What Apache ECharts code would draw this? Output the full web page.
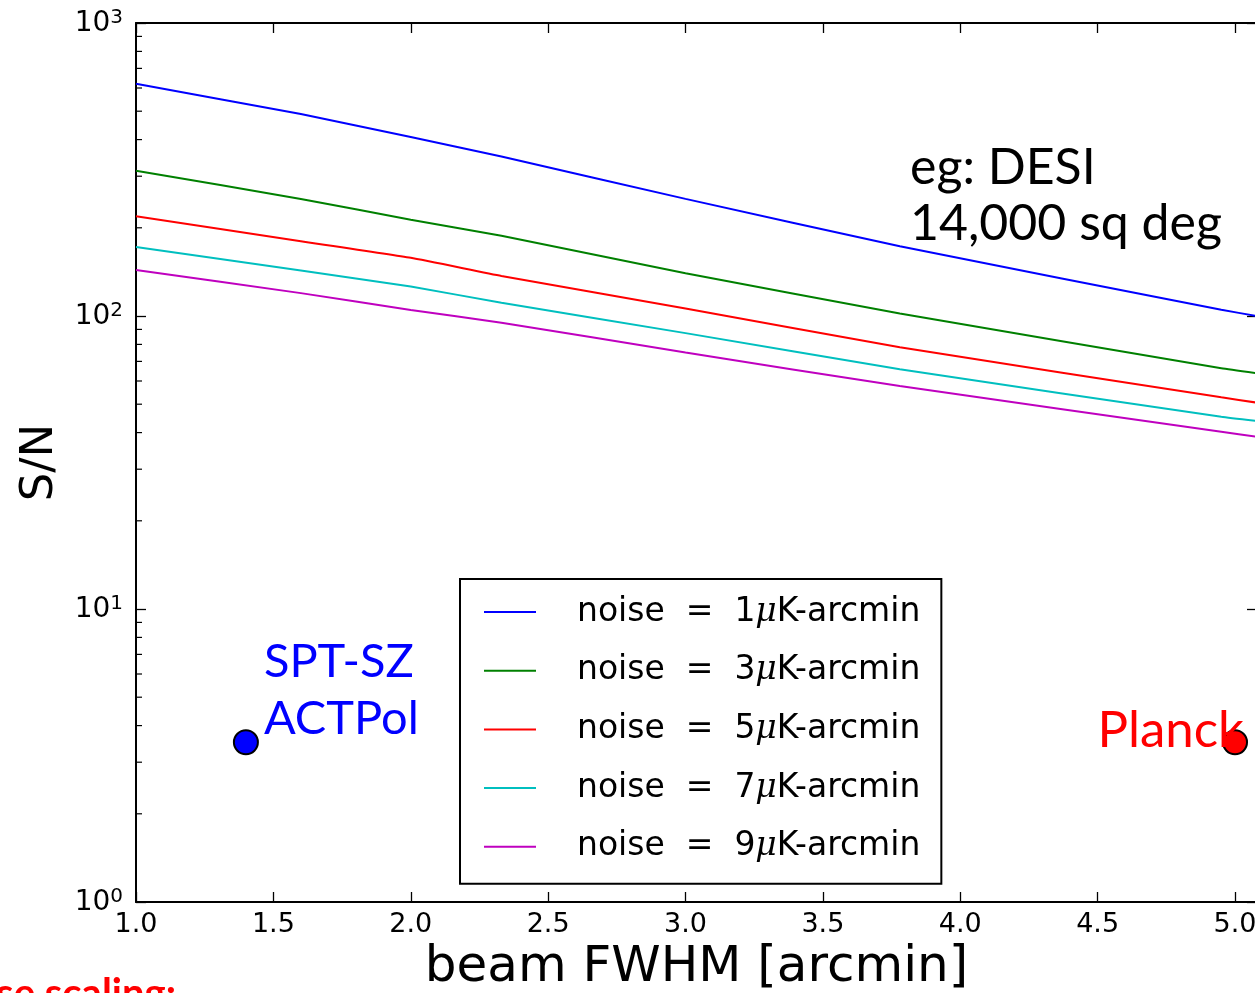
<!DOCTYPE html>
<html><head><meta charset="utf-8">
<script src="https://cdn.jsdelivr.net/npm/echarts@6/dist/echarts.min.js"></script>
<style>html,body{margin:0;padding:0;background:#fff}#c{width:1255px;height:993px}</style>
</head><body><div id="c"></div>
<script>
// ---- data ----
const beamFWHM = [1.0, 1.6, 2.0, 2.33, 3.0, 3.78, 4.95, 5.08];
const noise1 = [620, 489, 408, 350, 251, 173, 105, 100];
const noise3 = [313, 251, 213, 188, 140, 102, 66.3, 63.8];
const noise5 = [219, 180, 158, 137, 106, 78.2, 52.8, 50.6];
const noise7 = [172, 143, 126, 111, 87.4, 65.8, 45.3, 43.8];
const noise9 = [143.5, 119.7, 104.9, 94.9, 75.0, 57.7, 40.3, 38.7];
const noiseLevels = [1, 3, 5, 7, 9];
const seriesColors = ['#0000ff', '#008000', '#ff0000', '#00bfbf', '#bf00bf'];
const experiments = [
  {name: 'SPT-SZ\nACTPol', beam: 1.4, sn: 3.51, color: '#0000ff'},
  {name: 'Planck', beam: 5.0, sn: 3.51, color: '#ff0000'}
];
const yDecades = [1, 10, 100, 1000];

const allNoise = [noise1, noise3, noise5, noise7, noise9];
const names = noiseLevels.map(n => 'noise = ' + n + 'μK-arcmin');

const chart = echarts.init(document.getElementById('c'), null, {renderer: 'canvas'});

const tickFont = 'DejaVu Sans';
const annFont = 'Lato';

const lineSeries = allNoise.map((arr, i) => ({
  name: names[i], type: 'line', xAxisIndex: 0, yAxisIndex: 0,
  data: beamFWHM.map((x, j) => [x, arr[j]]),
  showSymbol: false, symbol: 'none', smooth: 0.15,
  color: seriesColors[i],
  lineStyle: {width: 2, color: seriesColors[i]},
  itemStyle: {color: seriesColors[i]},
  silent: true, z: 3
}));

const pointSeries = experiments.map((e, i) => ({
  name: 'exp' + i, type: 'scatter', xAxisIndex: 0, yAxisIndex: 0,
  data: [[e.beam, e.sn]], symbolSize: 24,
  itemStyle: {color: e.color, borderColor: '#000', borderWidth: 2, opacity: 1},
  label: {
    show: true, formatter: e.name, color: e.color, fontFamily: annFont,
    fontSize: i === 0 ? 47 : 51,
    lineHeight: 57,
    position: i === 0 ? 'right' : 'left',
    distance: 5,
    offset: i === 0 ? [0, -52] : [27, -12]
  },
  silent: true, z: 5
}));

const axisCommonX = {
  type: 'value', min: 1, max: 5.08, interval: 0.5,
  axisLine: {onZero: false, lineStyle: {color: '#000', width: 2}},
  axisTick: {inside: true, length: 10, lineStyle: {color: '#000', width: 1.3}},
  splitLine: {show: false}
};
const axisCommonY = {
  type: 'log', logBase: 10, min: 1, max: 1000,
  axisLine: {onZero: false, lineStyle: {color: '#000', width: 2}},
  axisTick: {inside: true, length: 10, lineStyle: {color: '#000', width: 1.3}},
  splitLine: {show: false}
};

chart.setOption({
  animation: false,
  backgroundColor: '#fff',
  grid: {left: 136, top: 23, width: 1121, height: 879, containLabel: false, outerBoundsMode: 'none'},
  xAxis: [
    Object.assign({}, axisCommonX, {
      position: 'bottom',
      axisLabel: {formatter: v => v.toFixed(1), showMaxLabel: false, color: '#000',
                  fontFamily: tickFont, fontSize: 27, margin: 9},
      name: 'beam FWHM [arcmin]', nameLocation: 'middle', nameGap: 40,
      nameTextStyle: {fontFamily: tickFont, fontSize: 50, color: '#000'}
    }),
    Object.assign({}, axisCommonX, {position: 'top', axisLabel: {show: false}})
  ],
  yAxis: [
    Object.assign({}, axisCommonY, {
      position: 'left',
      axisLabel: {
        formatter: v => '{b|10}{s|' + Math.round(Math.log10(v)) + '}',
        margin: 13,
        rich: {
          b: {fontFamily: tickFont, fontSize: 28, color: '#000', lineHeight: 30, verticalAlign: 'bottom'},
          s: {fontFamily: tickFont, fontSize: 20, color: '#000', lineHeight: 30, verticalAlign: 'top', padding: [0, 0, 12, 0]}
        }
      },
      name: 'S/N', nameLocation: 'middle', nameGap: 73, nameRotate: 90,
      nameTextStyle: {fontFamily: tickFont, fontSize: 45, color: '#000'}
    }),
    Object.assign({}, axisCommonY, {position: 'right', axisLabel: {show: false}})
  ],
  legend: {
    data: names, orient: 'vertical', left: 460, top: 579,
    backgroundColor: '#fff', borderColor: '#000', borderWidth: 2, borderRadius: 0,
    padding: [15, 21, 19, 24], itemGap: 22.7, itemWidth: 52, itemHeight: 2, icon: 'rect',
    selectedMode: false,
    formatter: n => n.replace(' = ', '  =  ').replace('μ', '{mu|μ}'),
    textStyle: {
      fontFamily: tickFont, fontSize: 33, color: '#000', lineHeight: 36, padding: [0, 0, 0, 36],
      rich: {mu: {fontFamily: 'DejaVu Serif', fontStyle: 'italic', fontSize: 33, lineHeight: 36, color: '#000'}}
    }
  },
  series: lineSeries.concat(pointSeries)
});

// minor log ticks (2..9 x 10^k) on the left spine, positioned via the axis scale
const gfx = [];
for (let k = 0; k < yDecades.length - 1; k++) {
  for (let m = 2; m <= 9; m++) {
    const v = m * yDecades[k];
    const pl = chart.convertToPixel({xAxisIndex: 0, yAxisIndex: 0}, [1, v]);
    gfx.push({type: 'line', shape: {x1: pl[0], y1: pl[1], x2: pl[0] + 6, y2: pl[1]},
              style: {stroke: '#000', lineWidth: 1.2}, z: 10, silent: true});
  }
}
gfx.push({type: 'text', left: 910, top: 140, silent: true, z: 10,
  style: {text: 'eg: DESI\n14,000 sq deg', fill: '#000', font: '50px ' + annFont, lineHeight: 56}});
gfx.push({type: 'text', right: 1255 - 176, top: 974, silent: true, z: 10,
  style: {text: 'Noise scaling:', fill: '#ff0000', font: 'bold 40px ' + annFont, textAlign: 'right'}});
chart.setOption({graphic: gfx});
</script>
</body></html>
